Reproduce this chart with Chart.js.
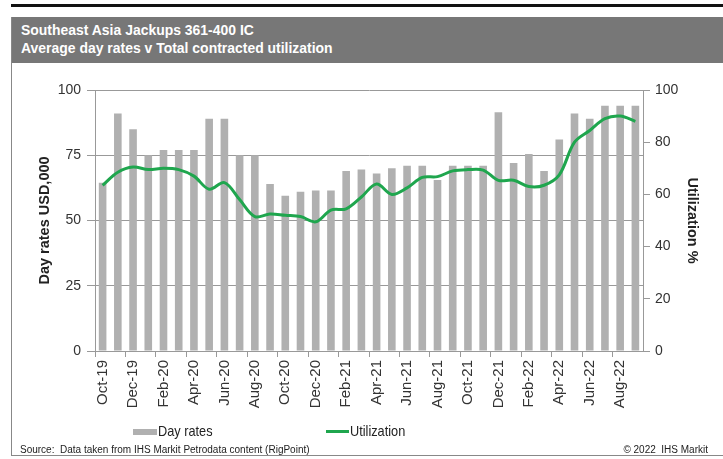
<!DOCTYPE html>
<html lang="en">
<head>
<meta charset="UTF-8">
<title>Southeast Asia Jackups 361-400 IC</title>
<script src="https://cdn.jsdelivr.net/npm/chart.js"></script>
<style>
    body { margin: 0; background: #fff; font-family: "Liberation Sans", Arial, sans-serif; }
    #wrap { position: relative; width: 723px; height: 459px; overflow: hidden; }
    #topline { position: absolute; left: 11px; top: 4px; width: 712px; height: 3px; background: #111; }
    #frame { position: absolute; left: 11px; top: 17px; width: 712px; height: 438px; border-left: 1px solid #888; border-bottom: 1px solid #888; }
    #banner { position: absolute; left: 12px; top: 17px; width: 711px; height: 46px; background: #777; }
    #banner div { position: absolute; left: 9px; color: #fff; font-weight: bold; font-size: 15px; white-space: nowrap; transform: scaleX(0.93); transform-origin: left top; }
    canvas { position: absolute; left: 0; top: 0; }
    .leg { position: absolute; top: 422px; font-size: 15px; color: #222; white-space: nowrap; transform: scaleX(0.85); transform-origin: left top; }
    .foot { position: absolute; top: 444px; font-size: 10px; color: #222; white-space: nowrap; }
</style>
</head>
<body>
<div id="wrap">
    <div id="topline"></div>
    <div id="frame"></div>
    <div id="banner">
        <div style="top:4px">Southeast Asia Jackups 361-400 IC</div>
        <div style="top:22px">Average day rates v Total contracted utilization</div>
    </div>
    <canvas id="chart" width="723" height="459"></canvas>
    <div style="position:absolute;left:133px;top:429px;width:24px;height:6px;background:#b0b0b0"></div>
    <div class="leg" style="left:158px">Day rates</div>
    <div style="position:absolute;left:326px;top:430px;width:23px;height:3px;background:#1fa64e"></div>
    <div class="leg" style="left:350px">Utilization</div>
    <div class="foot" style="left:20px">Source:&nbsp; Data taken from IHS Markit Petrodata content (RigPoint)</div>
    <div class="foot" style="right:15px">© 2022&nbsp; IHS Markit</div>
</div>

<script>
    // mois, d'Oct-19 a Sep-22
    const months = ['Oct-19','Nov-19','Dec-19','Jan-20','Feb-20','Mar-20','Apr-20','May-20','Jun-20','Jul-20','Aug-20','Sep-20',
                    'Oct-20','Nov-20','Dec-20','Jan-21','Feb-21','Mar-21','Apr-21','May-21','Jun-21','Jul-21','Aug-21','Sep-21',
                    'Oct-21','Nov-21','Dec-21','Jan-22','Feb-22','Mar-22','Apr-22','May-22','Jun-22','Jul-22','Aug-22','Sep-22'];

    // day rates, USD,000
    const dayRates = [64.5, 91, 85, 75, 77, 77, 77, 89, 89, 75, 75, 64,
                      59.5, 61, 61.5, 61.5, 69, 69.5, 68, 70, 71, 71, 65.5, 71,
                      71, 71, 91.5, 72, 75.5, 69, 81, 91, 89, 94, 94, 94];

    // utilization %
    const utilization = [63.5, 68.5, 70.5, 69.5, 70, 69.5, 67, 62, 64.5, 58, 51.5, 52.5,
                         52, 51.5, 49.5, 54, 54.5, 59, 64, 60, 62.5, 66.5, 66.8, 69,
                         69.5, 69.3, 65.4, 65.4, 63, 63.5, 67.5, 80, 84.5, 89, 90, 88];

    const leftTicks = [0, 25, 50, 75, 100];
    const rightTicks = [0, 20, 40, 60, 80, 100];

    const fontFam = '"Liberation Sans", Arial, sans-serif';

    const ctx = document.getElementById('chart').getContext('2d');
    new Chart(ctx, {
        data: {
            labels: months,
            datasets: [{
                type: 'line',
                label: 'Utilization',
                data: utilization,
                yAxisID: 'y1',
                borderColor: '#1fa64e',
                borderWidth: 3,
                pointRadius: 0,
                tension: 0.35,
                fill: false,
                order: 0
            }, {
                type: 'bar',
                label: 'Day rates',
                data: dayRates,
                yAxisID: 'y',
                backgroundColor: '#b0b0b0',
                barPercentage: 0.5,
                categoryPercentage: 1,
                order: 1
            }]
        },
        options: {
            responsive: false,
            animation: false,
            layout: { padding: { left: 12, right: 0, top: 90, bottom: 0 } },
            plugins: {
                legend: { display: false },
                tooltip: { enabled: false }
            },
            scales: {
                x: {
                    offset: true,
                    afterFit: function(scale) { scale.height = 108; },
                    grid: {
                        offset: true,
                        drawOnChartArea: false,
                        tickLength: 6,
                        color: function(c) { return c.index % 2 === 0 ? '#999' : 'rgba(0,0,0,0)'; }
                    },
                    border: { color: '#999' },
                    ticks: {
                        autoSkip: false,
                        maxRotation: 90,
                        minRotation: 90,
                        padding: 3,
                        color: '#333',
                        font: { family: fontFam, size: 15 },
                        callback: function(v, i) { return i % 2 === 0 ? months[i] : ''; }
                    }
                },
                y: {
                    position: 'left',
                    min: 0,
                    max: 100,
                    afterFit: function(scale) { scale.width = 83; },
                    afterBuildTicks: function(scale) { scale.ticks = leftTicks.map(v => ({ value: v })); },
                    grid: { color: '#999', tickLength: 8 },
                    border: { color: '#999' },
                    ticks: { padding: 6, color: '#333', font: { family: fontFam, size: 14 } },
                    title: {
                        display: true,
                        text: 'Day rates USD,000',
                        color: '#222',
                        padding: { top: 24, bottom: 0 },
                        font: { family: fontFam, size: 14.5, weight: 'bold' }
                    }
                },
                y1: {
                    position: 'right',
                    min: 0,
                    max: 100,
                    afterFit: function(scale) { scale.width = 80; },
                    afterBuildTicks: function(scale) { scale.ticks = rightTicks.map(v => ({ value: v })); },
                    grid: { drawOnChartArea: false, color: '#999', tickLength: 7 },
                    border: { color: '#999' },
                    ticks: { padding: 5, color: '#333', font: { family: fontFam, size: 14 } },
                    title: {
                        display: true,
                        text: 'Utilization %',
                        color: '#222',
                        padding: { top: 22, bottom: 0 },
                        font: { family: fontFam, size: 14.5, weight: 'bold' }
                    }
                }
            }
        }
    });
</script>
</body>
</html>
